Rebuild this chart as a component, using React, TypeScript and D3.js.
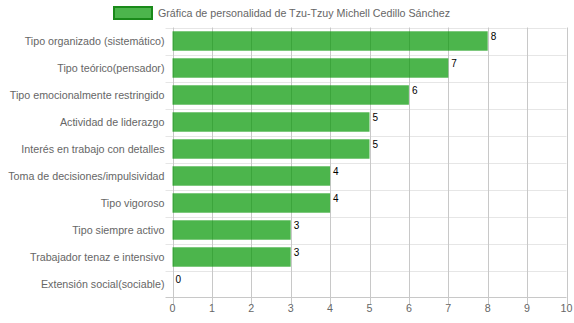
import React from "react";
import * as d3 from "d3";

const categories = [
  "Tipo organizado (sistemático)",
  "Tipo teórico(pensador)",
  "Tipo emocionalmente restringido",
  "Actividad de liderazgo",
  "Interés en trabajo con detalles",
  "Toma de decisiones/impulsividad",
  "Tipo vigoroso",
  "Tipo siempre activo",
  "Trabajador tenaz e intensivo",
  "Extensión social(sociable)",
];
const values = [8, 7, 6, 5, 5, 4, 4, 3, 3, 0];
const xTicks = [0, 1, 2, 3, 4, 5, 6, 7, 8, 9, 10];
const legendLabel = "Gráfica de personalidad de Tzu-Tzuy Michell Cedillo Sánchez";

const W = 574, H = 323;
const left = 172.5, right = 566.5, top = 27.5, bottom = 297.5;
const font = "'Liberation Sans', Arial, sans-serif";
const fs = 10.7;

export default function App() {
  const x = d3.scaleLinear().domain([0, 10]).range([left, right]);
  const y = d3.scaleBand<string>().domain(categories).range([top, bottom]);
  const bh = y.bandwidth() * 0.72;
  return (
    <svg width={W} height={H} style={{ position: "absolute", left: 0, top: 0 }}>
      {categories.map((c, i) => (
        <line key={"h" + i} x1={left - 7} x2={right} y1={Math.round(y(c)!) + 0.5} y2={Math.round(y(c)!) + 0.5} stroke="#e6e6e6" />
      ))}
      <line x1={left - 7} x2={right} y1={bottom} y2={bottom} stroke="#c8c8c8" />
      {xTicks.map((t) => (
        <line key={"v" + t} x1={Math.round(x(t)) + 0.5} x2={Math.round(x(t)) + 0.5} y1={top} y2={bottom + 7} stroke="#c8c8c8" />
      ))}
      {categories.map((c, i) => (
        <rect key={"b" + i} x={x(0)} y={y(c)! + (y.bandwidth() - bh) / 2} width={x(values[i]) - x(0)} height={bh} fill="rgba(0,150,0,0.7)" />
      ))}
      {categories.map((c, i) => (
        <text key={"l" + i} x={x(values[i]) + 3} y={y(c)! + (y.bandwidth() - bh) / 2 + 9} fontFamily={font} fontSize={10} fill="#000">
          {values[i]}
        </text>
      ))}
      {categories.map((c, i) => (
        <text key={"y" + i} x={left - 8} y={y(c)! + y.bandwidth() / 2} dy="0.35em" textAnchor="end" fontFamily={font} fontSize={fs} fill="#666">
          {c}
        </text>
      ))}
      {xTicks.map((t) => (
        <text key={"x" + t} x={x(t)} y={bottom + 7} dy="0.71em" textAnchor="middle" fontFamily={font} fontSize={fs} fill="#666">
          {t}
        </text>
      ))}
      <rect x={114} y={7} width={38} height={12} fill="rgba(0,150,0,0.7)" stroke="#1a8a1a" strokeWidth={2} />
      <text x={158} y={13} dy="0.35em" fontFamily={font} fontSize={fs} fill="#666">
        {legendLabel}
      </text>
    </svg>
  );
}
